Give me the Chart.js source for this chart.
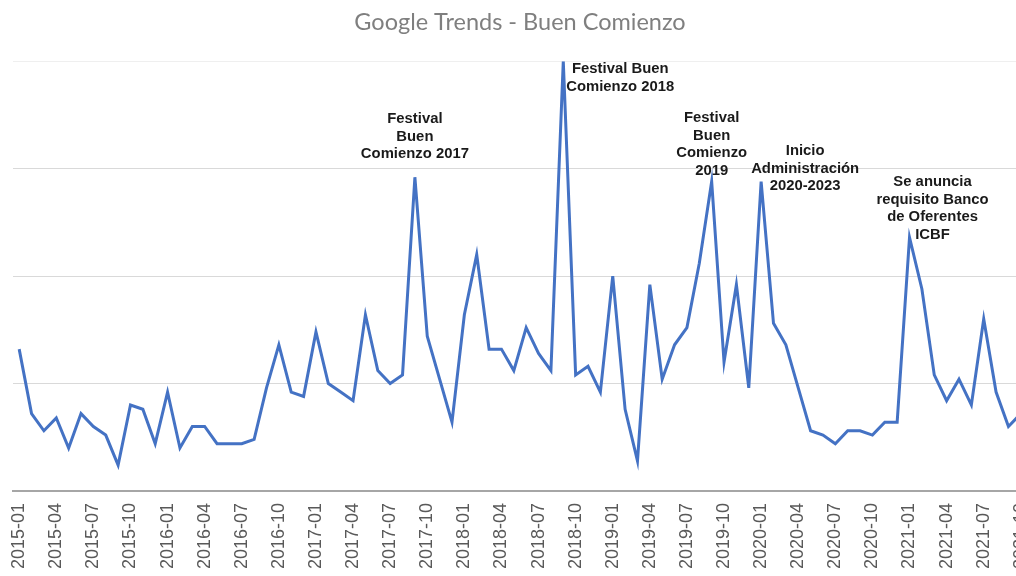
<!DOCTYPE html>
<html>
<head>
<meta charset="utf-8">
<script src="https://cdn.jsdelivr.net/npm/chart.js@4.4.1/dist/chart.umd.min.js"></script>
<style>
  html, body { margin: 0; padding: 0; background: #ffffff; overflow: hidden; }
  #wrap { width: 1040px; height: 576px; }
</style>
</head>
<body>
<div id="wrap"><canvas id="c" width="1040" height="576"></canvas></div>
<script>
// ---- DATA ----
const categories = [
  '2015-01','2015-02','2015-03','2015-04','2015-05','2015-06','2015-07','2015-08','2015-09','2015-10','2015-11','2015-12',
  '2016-01','2016-02','2016-03','2016-04','2016-05','2016-06','2016-07','2016-08','2016-09','2016-10','2016-11','2016-12',
  '2017-01','2017-02','2017-03','2017-04','2017-05','2017-06','2017-07','2017-08','2017-09','2017-10','2017-11','2017-12',
  '2018-01','2018-02','2018-03','2018-04','2018-05','2018-06','2018-07','2018-08','2018-09','2018-10','2018-11','2018-12',
  '2019-01','2019-02','2019-03','2019-04','2019-05','2019-06','2019-07','2019-08','2019-09','2019-10','2019-11','2019-12',
  '2020-01','2020-02','2020-03','2020-04','2020-05','2020-06','2020-07','2020-08','2020-09','2020-10','2020-11','2020-12',
  '2021-01','2021-02','2021-03','2021-04','2021-05','2021-06','2021-07','2021-08','2021-09','2021-10'
];
const interestValues = [
  33, 18, 14, 17, 10, 18, 15, 13, 6, 20, 19, 11,
  23, 10, 15, 15, 11, 11, 11, 12, 24, 34, 23, 22,
  37, 25, 23, 21, 41, 28, 25, 27, 73, 36, 26, 16,
  41, 55, 33, 33, 28, 38, 32, 28, 100, 27, 29, 23,
  50, 19, 7, 48, 26, 34, 38, 53, 72, 30, 48, 24,
  72, 39, 34, 24, 14, 13, 11, 14, 14, 13, 16, 16,
  59, 47, 27, 21, 26, 20, 40, 23, 15, 18
];
const yTicks = [0, 25, 50, 75, 100];
const annotationAnchors = ['2017-09', '2018-09', '2019-09', '2020-01', '2021-01'];
const annotationTexts = [
  ['Festival', 'Buen', 'Comienzo 2017'],
  ['Festival Buen', 'Comienzo 2018'],
  ['Festival', 'Buen', 'Comienzo', '2019'],
  ['Inicio', 'Administración', '2020-2023'],
  ['Se anuncia', 'requisito Banco', 'de Oferentes', 'ICBF']
];

// ---- annotation plugin (positions derived from the chart scales) ----
const annotationPlugin = {
  id: 'peakNotes',
  afterDatasetsDraw(chart, args, opts) {
    const ctx = chart.ctx;
    const xs = chart.scales.x, ys = chart.scales.y;
    ctx.save();
    ctx.font = opts.font;
    ctx.fillStyle = opts.color;
    ctx.textAlign = 'center';
    ctx.textBaseline = 'middle';
    annotationAnchors.forEach((lab, k) => {
      const idx = categories.indexOf(lab);
      const px = xs.getPixelForValue(idx);
      const py = ys.getPixelForValue(interestValues[idx]);
      const off = opts.offsets[k];
      annotationTexts[k].forEach((line, j) => {
        const cx = px + off[0];
        const cy = py + off[1] + j * opts.lineHeight;
        ctx.save();
        ctx.translate(cx, cy);
        ctx.scale(opts.stretch, 1);
        ctx.fillText(line, 0, 0);
        ctx.restore();
      });
    });
    ctx.restore();
  }
};

new Chart(document.getElementById('c'), {
  type: 'line',
  data: {
    labels: categories,
    datasets: [{
      data: interestValues,
      borderColor: '#4472C4',
      borderWidth: 3,
      pointRadius: 0,
      tension: 0,
      fill: false,
      borderJoinStyle: 'miter'
    }]
  },
  options: {
    responsive: false,
    animation: false,
    layout: { padding: { left: 13, right: 13, top: 0, bottom: -5 } },
    plugins: {
      legend: { display: false },
      tooltip: { enabled: false },
      title: {
        display: true,
        text: 'Google Trends - Buen Comienzo',
        color: '#7f7f7f',
        font: { family: 'Lato', size: 23.5, weight: 'normal' },
        padding: { top: 8, bottom: 25 }
      },
      peakNotes: {
        font: 'bold 14px "Liberation Sans", Arial, sans-serif',
        color: '#1a1a1a',
        lineHeight: 17.5,
        stretch: 1.06,
        offsets: [[0, -58], [57, 8], [0, -63], [44, -30], [23, -55]]
      }
    },
    scales: {
      x: {
        type: 'category',
        offset: true,
        afterFit: (scale) => { scale.paddingRight = 0; scale.paddingLeft = 0; },
        grid: { display: false, drawTicks: false },
        border: { display: true, color: '#a6a6a6', width: 2 },
        ticks: {
          autoSkip: false,
          minRotation: 90,
          maxRotation: 90,
          padding: 12,
          color: '#595959',
          font: { family: 'Liberation Sans', size: 18 },
          callback: function(v, i) { return i % 3 === 0 ? categories[i] : null; }
        }
      },
      y: {
        min: 0,
        max: 100,
        afterBuildTicks: (axis) => { axis.ticks = yTicks.map(v => ({ value: v })); },
        ticks: { display: false },
        border: { display: false },
        grid: {
          drawTicks: false,
          lineWidth: 1,
          color: (c) => c.tick && c.tick.value === 100 ? '#efefef' : (c.tick && c.tick.value === 0 ? 'rgba(0,0,0,0)' : '#d9d9d9')
        }
      }
    }
  },
  plugins: [annotationPlugin]
});
</script>
</body>
</html>
